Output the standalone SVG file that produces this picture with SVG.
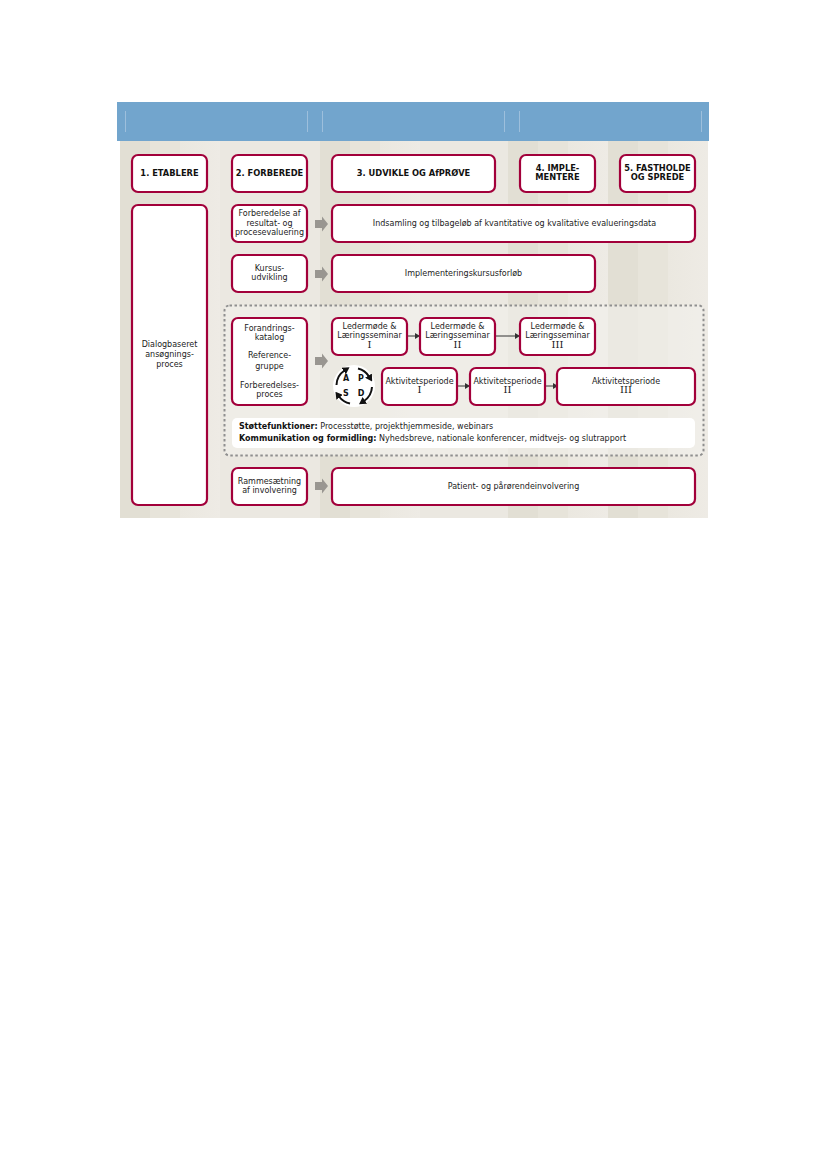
<svg xmlns="http://www.w3.org/2000/svg" width="827" height="1169" viewBox="0 0 827 1169">
<style>
text{font-family:"DejaVu Sans",Verdana,sans-serif;font-size:8px;fill:#1c1c1c;text-anchor:middle}
.h{font-weight:700;font-size:8.3px;fill:#111}
.l{text-anchor:start}
.b{font-weight:700;fill:#111}
.p{font-weight:700;fill:#111;font-size:8px}
.n{fill:#fff;stroke:#a2003a;stroke-width:2.2}
.c{fill:none;stroke:#333;stroke-width:1;marker-end:url(#a)}
.g{fill:#999691}
.r{fill:none;stroke:#111;stroke-width:2;marker-end:url(#k)}
.v{stroke:#9dbfdc;stroke-width:1}
.d{font-family:"DejaVu Serif",serif;font-size:10px}
</style>
<defs>
<linearGradient id="s"><stop offset="0" stop-color="#e2dfd4"/><stop offset=".3" stop-color="#e2dfd4"/><stop offset=".3" stop-color="#e7e4da"/><stop offset=".6" stop-color="#e7e4da"/><stop offset=".6" stop-color="#ebe8e0"/><stop offset="1" stop-color="#eeebe5"/></linearGradient>
<marker id="a" markerWidth="5" markerHeight="6" refX="4" refY="3" orient="auto" markerUnits="userSpaceOnUse"><path d="M0 0L5 3L0 6Z" fill="#333"/></marker>
<marker id="k" markerWidth="7" markerHeight="8" refX="1" refY="4" orient="auto" markerUnits="userSpaceOnUse"><path d="M0 0L7 4L0 8Z" fill="#111"/></marker>
</defs>
<g id="background">
<rect x="120" y="141" width="100" height="377" fill="url(#s)"/>
<rect x="220" y="141" width="100" height="377" fill="#ebe8e1"/>
<rect x="320" y="141" width="100" height="377" fill="url(#s)"/>
<rect x="420" y="141" width="88" height="377" fill="#ebe8e1"/>
<rect x="508" y="141" width="100" height="377" fill="url(#s)"/>
<rect x="608" y="141" width="100" height="377" fill="url(#s)"/>
<rect x="117" y="102" width="592" height="39" fill="#72a5cd"/>
<path class="v" d="M125.500 111V132M307.500 111V132M322.500 111V132M504.500 111V132M519.500 111V132M701.500 111V132"/>
</g>
<g id="group-box">
<rect x="224.500" y="305.500" width="479" height="150" rx="5" fill="#f3f1ec" fill-opacity=".55" stroke="#8f8f8f" stroke-width="2" stroke-dasharray="2.500 2.500"/>
</g>
<g id="connectors">
<path class="g" d="M315 220H322V216.500L328 224L322 231.500V228H315Z"/>
<path class="g" d="M315 270H322V266.500L328 274L322 281.500V278H315Z"/>
<path class="g" d="M315 357H322V353.500L328 361L322 368.500V365H315Z"/>
<path class="g" d="M315 482H322V478.500L328 486L322 493.500V490H315Z"/>
<path class="c" d="M408 336H419"/>
<path class="c" d="M496 336H519"/>
<path class="c" d="M458 386H469"/>
<path class="c" d="M546 386H557"/>
</g>
<g id="n-etablere"><rect class="n" x="132" y="155" width="75" height="37" rx="6"/><text class="h" x="169.500" y="176">1. ETABLERE</text></g>
<g id="n-forberede"><rect class="n" x="232" y="155" width="75" height="37" rx="6"/><text class="h" x="269.500" y="176">2. FORBEREDE</text></g>
<g id="n-udvikle"><rect class="n" x="332" y="155" width="163" height="37" rx="6"/><text class="h" x="413.500" y="176">3. UDVIKLE OG AfPRØVE</text></g>
<g id="n-implementere"><rect class="n" x="520" y="155" width="75" height="37" rx="6"/><text class="h" x="557.500" y="171">4. IMPLE-</text><text class="h" x="557.500" y="180">MENTERE</text></g>
<g id="n-fastholde"><rect class="n" x="620" y="155" width="75" height="37" rx="6"/><text class="h" x="657.500" y="171">5. FASTHOLDE</text><text class="h" x="657.500" y="180">OG SPREDE</text></g>
<g id="n-dialog"><rect class="n" x="132" y="205" width="75" height="300" rx="6"/><text x="169.500" y="347">Dialogbaseret</text><text x="169.500" y="357">ansøgnings-</text><text x="169.500" y="367">proces</text></g>
<g id="n-evaluering"><rect class="n" x="232" y="205" width="75" height="37" rx="6"/><text x="269.500" y="216">Forberedelse af</text><text x="269.500" y="225.500">resultat- og</text><text x="269.500" y="235">procesevaluering</text></g>
<g id="n-indsamling"><rect class="n" x="332" y="205" width="363" height="37" rx="6"/><text x="514.500" y="226">Indsamling og tilbageløb af kvantitative og kvalitative evalueringsdata</text></g>
<g id="n-kursus"><rect class="n" x="232" y="255" width="75" height="37" rx="6"/><text x="269.500" y="271">Kursus-</text><text x="269.500" y="280">udvikling</text></g>
<g id="n-kursusforloeb"><rect class="n" x="332" y="255" width="263" height="37" rx="6"/><text x="463.500" y="276">Implementeringskursusforløb</text></g>
<g id="n-forandring"><rect class="n" x="232" y="318" width="75" height="87" rx="6"/><text x="269.500" y="331">Forandrings-</text><text x="269.500" y="340">katalog</text><text x="269.500" y="358">Reference-</text><text x="269.500" y="369">gruppe</text><text x="269.500" y="388">Forberedelses-</text><text x="269.500" y="397">proces</text></g>
<g id="n-seminar1"><rect class="n" x="332" y="318" width="75" height="37" rx="6"/><text x="369.500" y="329">Ledermøde &amp;</text><text x="369.500" y="338">Læringsseminar</text><text class="d" x="369.500" y="348">I</text></g>
<g id="n-seminar2"><rect class="n" x="420" y="318" width="75" height="37" rx="6"/><text x="457.500" y="329">Ledermøde &amp;</text><text x="457.500" y="338">Læringsseminar</text><text class="d" x="457.500" y="348">II</text></g>
<g id="n-seminar3"><rect class="n" x="520" y="318" width="75" height="37" rx="6"/><text x="557.500" y="329">Ledermøde &amp;</text><text x="557.500" y="338">Læringsseminar</text><text class="d" x="557.500" y="348">III</text></g>
<g id="n-pdsa">
<circle cx="354" cy="386" r="21" fill="#fff"/>
<path class="r" d="M336.500 385A18 18 0 0 1 344.500 370.500"/>
<path class="r" d="M358 368.500A18 18 0 0 1 369 376.500"/>
<path class="r" d="M372 387A18 18 0 0 1 364 401"/>
<path class="r" d="M350 403.500A18 18 0 0 1 339 396.500"/>
<text class="p" x="346" y="381">A</text><text class="p" x="361" y="381">P</text><text class="p" x="346" y="396">S</text><text class="p" x="361" y="396">D</text>
</g>
<g id="n-aktivitet1"><rect class="n" x="382" y="368" width="75" height="37" rx="6"/><text x="419.500" y="384">Aktivitetsperiode</text><text class="d" x="419.500" y="393">I</text></g>
<g id="n-aktivitet2"><rect class="n" x="470" y="368" width="75" height="37" rx="6"/><text x="507.500" y="384">Aktivitetsperiode</text><text class="d" x="507.500" y="393">II</text></g>
<g id="n-aktivitet3"><rect class="n" x="557" y="368" width="138" height="37" rx="6"/><text x="626" y="384">Aktivitetsperiode</text><text class="d" x="626" y="393">III</text></g>
<g id="n-stotte"><rect x="232" y="418" width="463" height="30" rx="5" fill="#fff"/>
<text class="l" x="239" y="429"><tspan class="b">Støttefunktioner:</tspan> Processtøtte, projekthjemmeside, webinars</text>
<text class="l" x="239" y="441"><tspan class="b">Kommunikation og formidling:</tspan> Nyhedsbreve, nationale konferencer, midtvejs- og slutrapport</text></g>
<g id="n-rammesaetning"><rect class="n" x="232" y="468" width="75" height="37" rx="6"/><text x="269.500" y="484">Rammesætning</text><text x="269.500" y="493">af involvering</text></g>
<g id="n-patient"><rect class="n" x="332" y="468" width="363" height="37" rx="6"/><text x="513.500" y="489">Patient- og pårørendeinvolvering</text></g>
</svg>
